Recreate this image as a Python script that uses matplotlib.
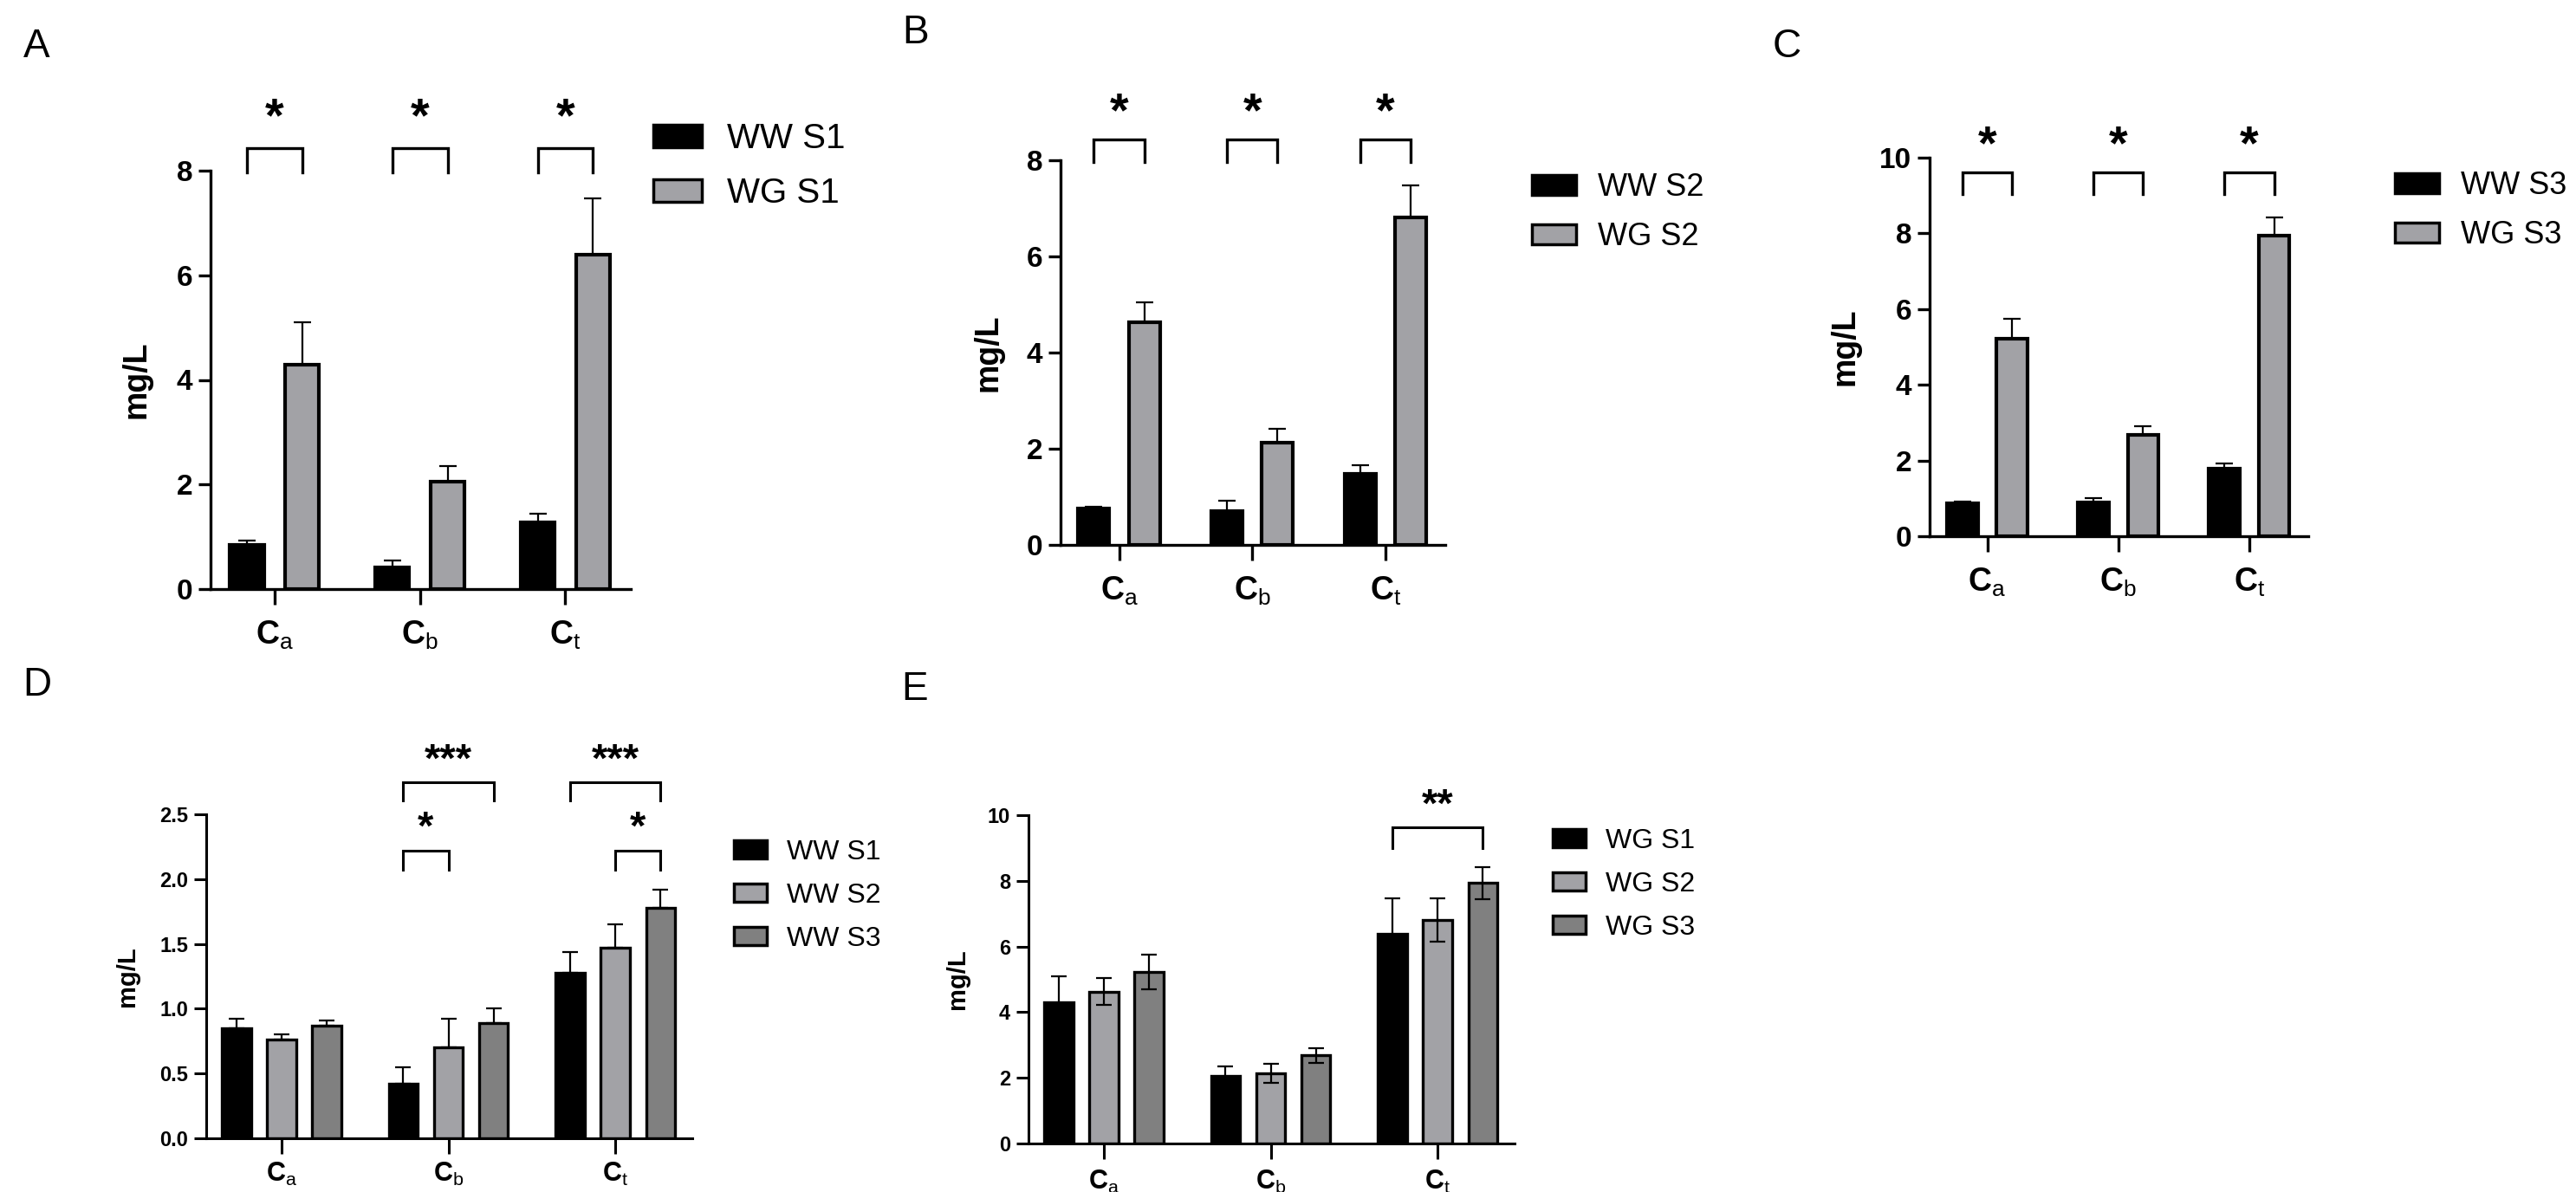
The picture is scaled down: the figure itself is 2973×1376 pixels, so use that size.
import matplotlib
matplotlib.use("Agg")
import matplotlib.pyplot as plt
import numpy as np
from matplotlib.patches import Patch

plt.rcParams['font.family'] = 'Liberation Sans'
plt.rcParams['mathtext.fontset'] = 'custom'
plt.rcParams['mathtext.rm'] = 'Liberation Sans'
plt.rcParams['mathtext.bf'] = 'Liberation Sans:bold'
plt.rcParams['mathtext.it'] = 'Liberation Sans:italic'

# data (mg/L)
subs = ['a', 'b', 't']
ww_s1 = [0.85, 0.42, 1.28]
ww_s1_err = [0.07, 0.13, 0.16]
ww_s2 = [0.76, 0.70, 1.47]
ww_s2_err = [0.04, 0.22, 0.18]
ww_s3 = [0.87, 0.89, 1.78]
ww_s3_err = [0.04, 0.11, 0.14]
wg_s1 = [4.29, 2.06, 6.39]
wg_s1_err = [0.81, 0.30, 1.08]
wg_s2 = [4.63, 2.13, 6.81]
wg_s2_err = [0.41, 0.29, 0.66]
wg_s3 = [5.22, 2.68, 7.94]
wg_s3_err = [0.52, 0.22, 0.49]

BLACK = '#000000'
LIGHT = '#a2a2a6'
DARK = '#808080'

W, H = 2973, 1376
fig = plt.figure(figsize=(W / 100, H / 100), dpi=100)


def axes_px(left, top, right, bottom):
    return fig.add_axes([left / W, 1 - bottom / H, (right - left) / W, (bottom - top) / H])


def style(ax, ytick_fs, xtick_fs, lw, xpad):
    for s in ['top', 'right']:
        ax.spines[s].set_visible(False)
    for s in ['left', 'bottom']:
        ax.spines[s].set_linewidth(lw)
    ax.tick_params(axis='y', length=10, width=lw, labelsize=ytick_fs, pad=5)
    ax.tick_params(axis='x', length=13, width=lw, labelsize=xtick_fs, pad=xpad)
    for t in ax.get_yticklabels():
        t.set_fontweight('bold')
    x = np.arange(3)
    ax.set_xticks(x)
    ax.set_xticklabels([r'$\mathbf{C}_{\mathrm{%s}}$' % s for s in subs])


def bars(ax, series, errs, colors, offsets, width, lw, capsize, both=False):
    x = np.arange(3)
    for vals, err, col, off in zip(series, errs, colors, offsets):
        lower = err if both else [0] * len(err)
        ax.errorbar(x + off, vals, yerr=[lower, err], fmt='none', ecolor='black',
                    elinewidth=1.6, capsize=capsize, capthick=1.6,
                    zorder=3 if both else 1)
        ax.bar(x + off, vals, width, color=col, edgecolor='black', linewidth=lw, zorder=2)


def bracket(ax, x1, x2, y0, y1, ystar, stars, fs, lw):
    ax.plot([x1, x1, x2, x2], [y0, y1, y1, y0], color='black', lw=lw,
            clip_on=False, solid_joinstyle='miter')
    ax.text((x1 + x2) / 2, ystar, stars, ha='center', va='center',
            fontsize=fs, fontweight='bold', clip_on=False)


def legend(ax, labels, colors, x, y, fs, hl, hh, spacing):
    handles = [Patch(facecolor=c, edgecolor='black', linewidth=2.5) for c in colors]
    ax.legend(handles, labels, loc='upper left', bbox_to_anchor=(x / W, 1 - y / H),
              bbox_transform=fig.transFigure, frameon=False, fontsize=fs,
              handlelength=hl, handleheight=hh, handletextpad=0.7,
              labelspacing=spacing, borderpad=0, borderaxespad=0)


def panel_letter(letter, x, y):
    fig.text(x / W, 1 - y / H, letter, fontsize=33, ha='center', va='center')


# ---- top row: WW vs WG per season ----
top_panels = [
    ('A', (42, 54), (243, 197, 728, 680), ww_s1, ww_s1_err, wg_s1, wg_s1_err,
     ['WW S1', 'WG S1'], 8, [0, 2, 4, 6, 8], (7.97, 8.43, 8.99), (754, 141), -0.177, 29),
    ('B', (1057, 38), (1224, 185, 1668, 629), ww_s2, ww_s2_err, wg_s2, wg_s2_err,
     ['WW S2', 'WG S2'], 8, [0, 2, 4, 6, 8], (7.96, 8.43, 8.97), (1768, 199), -0.187, 26),
    ('C', (2062, 54), (2227, 182, 2664, 619), ww_s3, ww_s3_err, wg_s3, wg_s3_err,
     ['WW S3', 'WG S3'], 10, [0, 2, 4, 6, 8, 10], (9.04, 9.61, 10.3), (2764, 197), -0.222, 26),
]

for (letter, lpos, box, ww, ww_e, wg, wg_e, labels, ymax, yt, br, legpos, ylx, lfs) in top_panels:
    ax = axes_px(*box)
    bars(ax, [ww, wg], [ww_e, wg_e], [BLACK, LIGHT], [-0.19, 0.19], 0.235, 3.0, 7)
    ax.set_xlim(-0.44, 2.45)
    ax.set_ylim(0, ymax)
    ax.set_yticks(yt)
    style(ax, 24, 27, 2.4, 12)
    ax.set_ylabel('mg/L', fontsize=27, fontweight='bold', va='center')
    ax.yaxis.set_label_coords(ylx, 0.5)
    for i in range(3):
        bracket(ax, i - 0.19, i + 0.19, br[0], br[1], br[2], '*', 40, 2.4)
    legend(ax, labels, [BLACK, LIGHT], legpos[0], legpos[1], lfs, 1.4, 0.62, 0.62)
    panel_letter(letter, *lpos)

# ---- bottom row: season comparison ----
off3 = [-0.27, 0.0, 0.27]

# D: WW
axd = axes_px(238, 940, 799, 1314)
bars(axd, [ww_s1, ww_s2, ww_s3], [ww_s1_err, ww_s2_err, ww_s3_err],
     [BLACK, LIGHT, DARK], off3, 0.175, 2.4, 6.5)
axd.set_xlim(-0.45, 2.46)
axd.set_ylim(0, 2.5)
axd.set_yticks([0, 0.5, 1.0, 1.5, 2.0, 2.5])
axd.set_yticklabels(['0.0', '0.5', '1.0', '1.5', '2.0', '2.5'])
style(axd, 17, 22, 2.2, 6)
axd.set_ylabel('mg/L', fontsize=21, fontweight='bold', va='center')
axd.yaxis.set_label_coords(-0.162, 0.5)
bracket(axd, 1 - 0.27, 1 + 0.27, 2.61, 2.75, 2.91, '***', 34, 2.2)
bracket(axd, 1 - 0.27, 1.0, 2.07, 2.22, 2.39, '*', 34, 2.2)
bracket(axd, 2 - 0.27, 2 + 0.27, 2.61, 2.75, 2.91, '***', 34, 2.2)
bracket(axd, 2.0, 2 + 0.27, 2.07, 2.22, 2.39, '*', 34, 2.2)
legend(axd, ['WW S1', 'WW S2', 'WW S3'], [BLACK, LIGHT, DARK], 847, 969, 23, 1.2, 0.65, 0.62)
panel_letter('D', 43, 791)

# E: WG
axe = axes_px(1187, 941, 1748, 1320)
bars(axe, [wg_s1, wg_s2, wg_s3], [wg_s1_err, wg_s2_err, wg_s3_err],
     [BLACK, LIGHT, DARK], off3, 0.175, 2.4, 6.5, both=True)
axe.set_xlim(-0.45, 2.46)
axe.set_ylim(0, 10)
axe.set_yticks([0, 2, 4, 6, 8, 10])
style(axe, 17, 22, 2.2, 8)
axe.set_ylabel('mg/L', fontsize=21, fontweight='bold', va='center')
axe.yaxis.set_label_coords(-0.146, 0.5)
bracket(axe, 2 - 0.27, 2 + 0.27, 9.0, 9.63, 10.26, '**', 34, 2.2)
legend(axe, ['WG S1', 'WG S2', 'WG S3'], [BLACK, LIGHT, DARK], 1792, 956, 23, 1.2, 0.65, 0.62)
panel_letter('E', 1056, 796)

fig.savefig('out.png', dpi=100, facecolor='white')
